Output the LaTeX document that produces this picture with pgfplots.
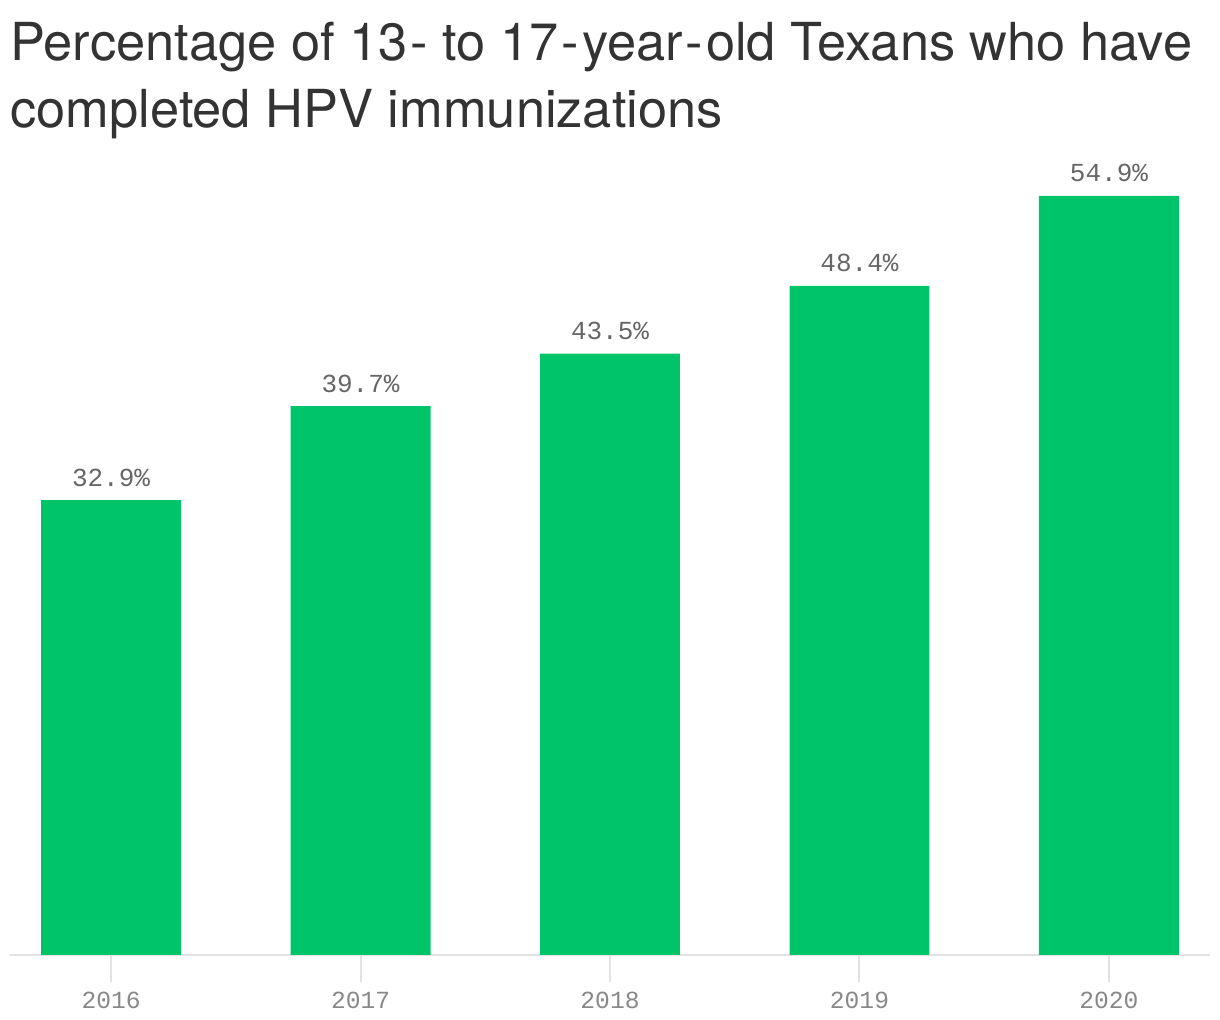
\documentclass[border=0pt]{standalone}
\usepackage{pgfplots}
\pgfplotsset{compat=1.18}
\usepackage{fontspec}
\setmainfont{TeX Gyre Heros}
\newfontfamily\monofont{Liberation Mono}
\definecolor{bargreen}{HTML}{00C46A}
\definecolor{titlegray}{HTML}{333333}
\definecolor{valgray}{HTML}{666666}
\definecolor{tickgray}{HTML}{888888}
\definecolor{axisgray}{HTML}{E2E2E2}
\newcommand{\hy}{\hspace{1.5pt}-\hspace{1.5pt}}
\begin{document}
\begin{tikzpicture}
\useasboundingbox (0,0) rectangle (610pt,510pt);
% title
\node[anchor=base west, inner sep=0, text=titlegray, font=\fontsize{26.2pt}{32pt}\selectfont]
  at (5pt,479.5pt) {Percentage of 13\hspace{1.5pt}- to 17\hy year\hy old Texans who have};
\node[anchor=base west, inner sep=0, text=titlegray, font=\fontsize{26.2pt}{32pt}\selectfont]
  at (5pt,446pt) {completed HPV immunizations};
\begin{axis}[
    at={(5pt,32.5pt)}, anchor=south west,
    scale only axis,
    width=600pt, height=392.5pt,
    xmin=-0.405, xmax=4.405,
    ymin=0, ymax=56.78,
    axis y line=none,
    axis x line*=bottom,
    x axis line style={-, draw=axisgray, line width=1pt},
    xtick={0,1,2,3,4},
    xticklabels={2016,2017,2018,2019,2020},
    tick align=outside,
    major tick length=13.5pt,
    x tick style={draw=axisgray, line width=1pt},
    xticklabel style={font=\monofont\fontsize{12.3pt}{14pt}\selectfont, text=tickgray, yshift=-1.5pt},
    ybar, bar width=0.561,
    nodes near coords={\pgfmathprintnumber[fixed, fixed zerofill, precision=1]{\pgfplotspointmeta}\%},
    every node near coord/.append style={font=\monofont\fontsize{13pt}{15pt}\selectfont,
        text=valgray, anchor=base, inner sep=0, yshift=7pt},
    /pgf/number format/assume math mode=true,
]
\addplot[fill=bargreen, draw=none] coordinates {(0,32.9) (1,39.7) (2,43.5) (3,48.4) (4,54.9)};
\end{axis}
\end{tikzpicture}
\end{document}
